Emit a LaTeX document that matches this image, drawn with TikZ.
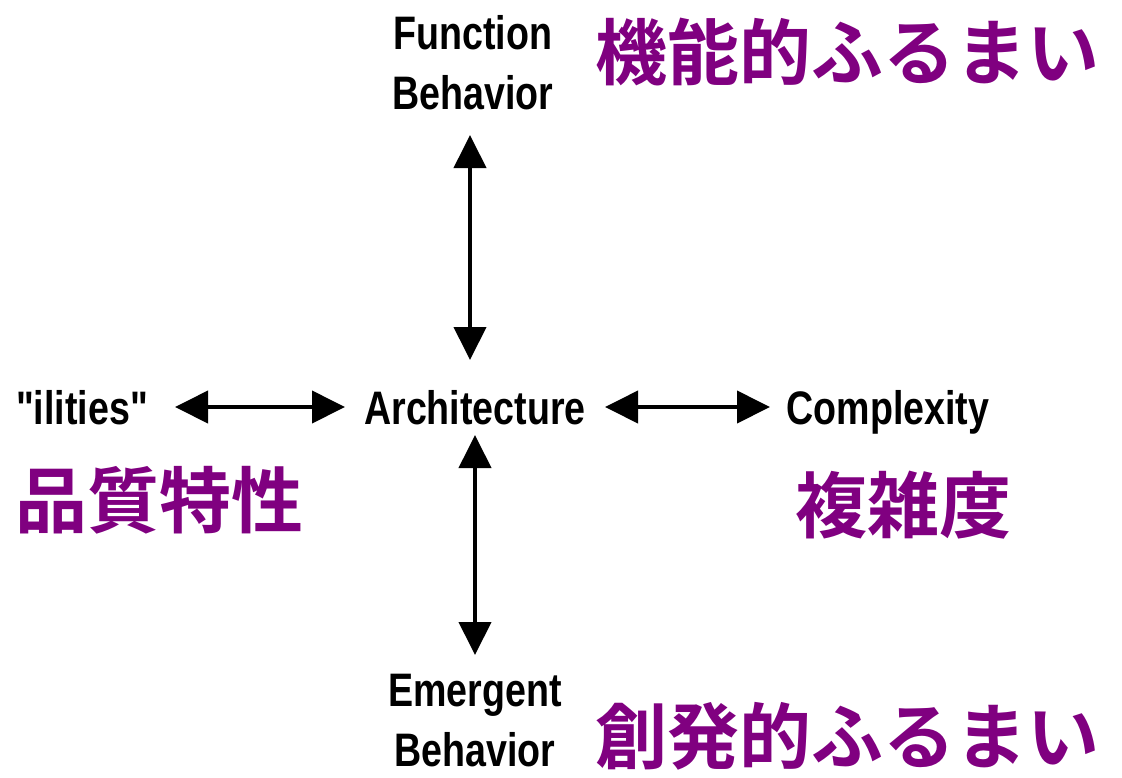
\documentclass[tikz,border=0pt]{standalone}
\usepackage{fontspec}
\setmainfont{Liberation Sans}
\newfontfamily\lsans{Liberation Sans}
\newfontfamily\cjk{Noto Sans CJK JP}[BoldFont={Noto Sans CJK JP Bold}]
\usetikzlibrary{arrows.meta}
\definecolor{jpurple}{RGB}{128,0,128}
\tikzset{
  lbl/.style={font=\fontsize{47}{60}\selectfont\lsans\bfseries, xscale=0.8, align=center, inner sep=0pt},
  jp/.style={font=\fontsize{72}{80}\selectfont\cjk\bfseries, text=jpurple, inner sep=0pt},
  dbl/.style={line width=4pt, {Triangle[length=33pt,width=32pt]}-{Triangle[length=33pt,width=32pt]}}
}
\begin{document}
\begin{tikzpicture}[x=1pt,y=-1pt]
\useasboundingbox (0,0) rectangle (1122,777);
\node[lbl] (func) at (473,63) {Function\\Behavior};
\node[lbl, anchor=base] (arch) at (475,424) {Architecture};
\node[lbl, anchor=base] (ilit) at (82,424) {"ilities"};
\node[lbl, anchor=base] (comp) at (888,424) {Complexity};
\node[lbl] (emer) at (475,721) {Emergent\\Behavior};
\node[jp] (jfunc) at (847,52) {機能的ふるまい};
\node[jp] (jilit) at (160,500) {品質特性};
\node[jp] (jcomp) at (903,505) {複雑度};
\node[jp] (jemer) at (847,736) {創発的ふるまい};
\coordinate (u1) at (470,135);
\coordinate (u2) at (470,360);
\coordinate (d1) at (475,435);
\coordinate (d2) at (475,655);
\coordinate (l1) at (175,407);
\coordinate (l2) at (345,407);
\coordinate (r1) at (605,407);
\coordinate (r2) at (770,407);
\draw[dbl] (u1) -- (u2);
\draw[dbl] (d1) -- (d2);
\draw[dbl] (l1) -- (l2);
\draw[dbl] (r1) -- (r2);
\end{tikzpicture}
\end{document}
